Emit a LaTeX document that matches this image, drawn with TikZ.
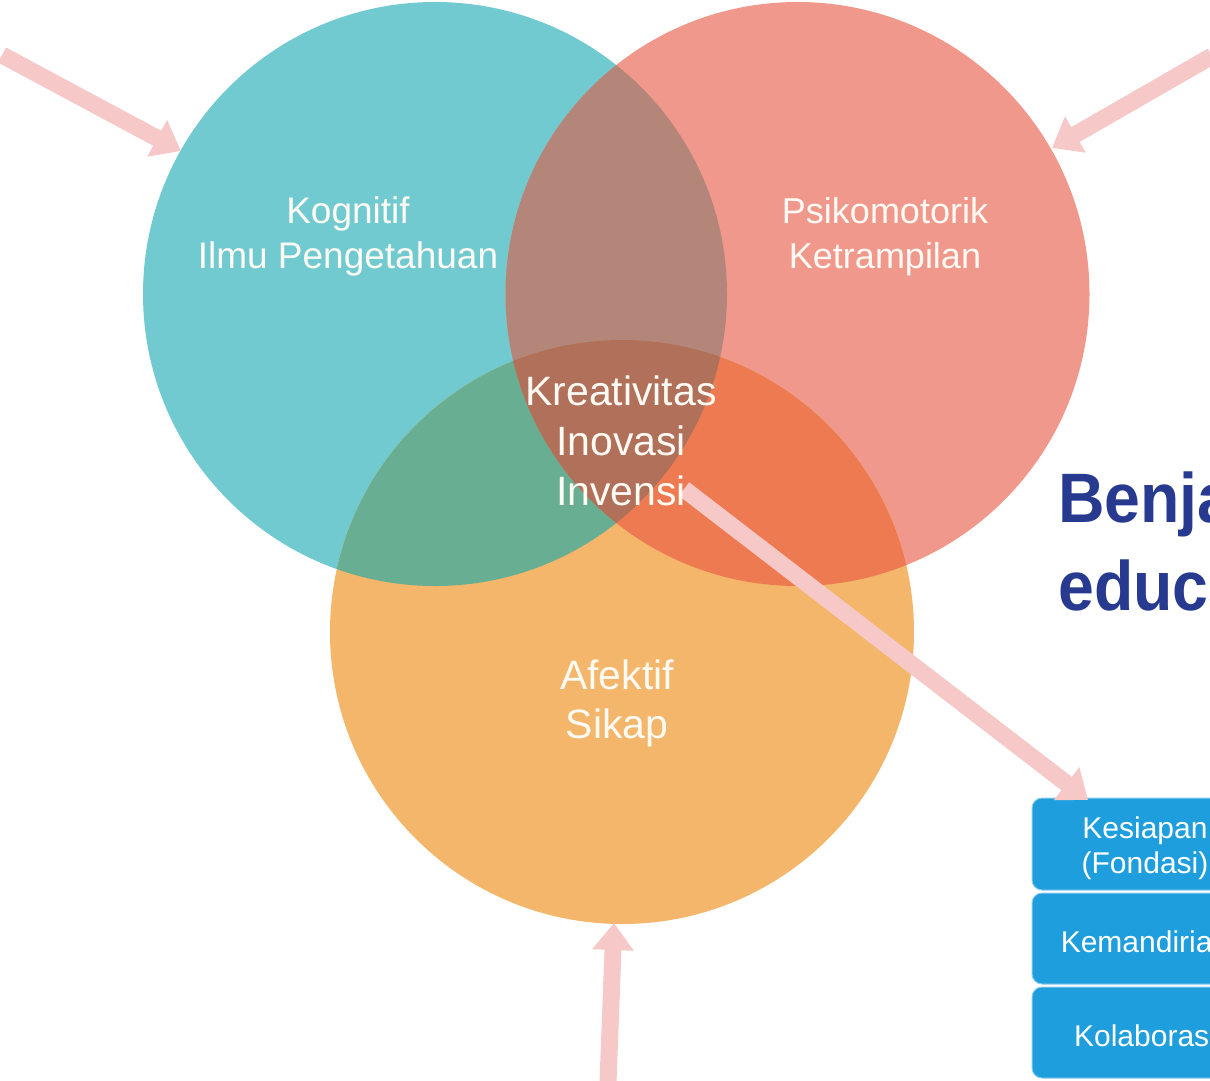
\documentclass[tikz,border=0pt]{standalone}
\usepackage{fontspec}
\setmainfont{Liberation Sans}
\newfontfamily\titlefont[FakeStretch=0.92]{Liberation Sans}
\usetikzlibrary{arrows.meta}
\definecolor{cteal}{RGB}{112,202,208}
\definecolor{cred}{RGB}{240,152,140}
\definecolor{corange}{RGB}{243,182,106}
\definecolor{ctr}{RGB}{180,134,122}
\definecolor{cto}{RGB}{104,174,146}
\definecolor{cro}{RGB}{237,122,80}
\definecolor{ccenter}{RGB}{176,112,90}
\definecolor{cpink}{RGB}{246,200,200}
\definecolor{ctext}{RGB}{255,251,244}
\definecolor{cnavy}{RGB}{40,58,143}
\definecolor{cbox}{RGB}{31,158,222}
\definecolor{cboxedge}{RGB}{140,205,240}
\tikzset{
  bigarrow/.style={draw=cpink, line width=17pt, -{Triangle[width=40pt,length=27pt]}},
  vtext/.style={text=ctext, anchor=base, inner sep=0pt},
  stagebox/.style={fill=cbox, draw=cboxedge, line width=1pt, rounded corners=10pt},
  boxtext/.style={text=white, font=\fontsize{30}{34}\selectfont, anchor=base, inner sep=0pt},
  titletext/.style={anchor=base west, inner sep=0pt, text=cnavy, font=\titlefont\fontsize{70}{80}\selectfont\bfseries}
}
\begin{document}
\begin{tikzpicture}[x=1pt,y=-1pt]
\useasboundingbox (0,0) rectangle (1210,1080);
\clip (0,0) rectangle (1210,1080);
\coordinate (T) at (435,294);
\coordinate (R) at (797.5,294);
\coordinate (O) at (622,632);
% circles
\fill[cteal] (T) circle[radius=292pt];
\fill[cred] (R) circle[radius=292pt];
\fill[corange] (O) circle[radius=292pt];
\begin{scope}
  \clip (T) circle[radius=292pt];
  \fill[ctr] (R) circle[radius=292pt];
  \fill[cto] (O) circle[radius=292pt];
\end{scope}
\begin{scope}
  \clip (R) circle[radius=292pt];
  \fill[cro] (O) circle[radius=292pt];
\end{scope}
\begin{scope}
  \clip (T) circle[radius=292pt];
  \clip (R) circle[radius=292pt];
  \fill[ccenter] (O) circle[radius=292pt];
\end{scope}
% boxes
\path[stagebox] (1032,798) rectangle (1258,890);
\path[stagebox] (1032,893) rectangle (1258,984);
\path[stagebox] (1032,987) rectangle (1258,1078);
\node[boxtext] (b1a) at (1145,838) {Kesiapan};
\node[boxtext] (b1b) at (1145,873) {(Fondasi)};
\node[boxtext] (b2) at (1145,952) {Kemandirian};
\node[boxtext] (b3) at (1145,1046) {Kolaborasi};
% arrows
\coordinate (a1s) at (2,55);
\coordinate (a1e) at (181,151);
\coordinate (a2s) at (1212,56);
\coordinate (a2e) at (1052,148);
\coordinate (a3s) at (608,1082);
\coordinate (a3e) at (614,923);
\coordinate (a4s) at (684,489);
\coordinate (a4e) at (1088,800);
\draw[bigarrow] (a1s) -- (a1e);
\draw[bigarrow] (a2s) -- (a2e);
\draw[bigarrow] (a3s) -- (a3e);
\draw[bigarrow] (a4s) -- (a4e);
% texts
\node[vtext, font=\fontsize{37}{41}\selectfont] (k1) at (348,223) {Kognitif};
\node[vtext, font=\fontsize{37}{41}\selectfont] (k2) at (348,268) {Ilmu Pengetahuan};
\node[vtext, font=\fontsize{36}{40}\selectfont] (p1) at (885,223) {Psikomotorik};
\node[vtext, font=\fontsize{36}{40}\selectfont] (p2) at (885,268) {Ketrampilan};
\node[vtext, font=\fontsize{41}{46}\selectfont] (c1) at (621,405) {Kreativitas};
\node[vtext, font=\fontsize{41}{46}\selectfont] (c2) at (621,455) {Inovasi};
\node[vtext, font=\fontsize{41}{46}\selectfont] (c3) at (621,505) {Invensi};
\node[vtext, font=\fontsize{41}{46}\selectfont] (f1) at (617,689) {Afektif};
\node[vtext, font=\fontsize{41}{46}\selectfont] (f2) at (617,738) {Sikap};
% title
\node[titletext] (t1) at (1058,522) {Benjamin};
\node[titletext] (t2) at (1058,610) {education};
\end{tikzpicture}
\end{document}
